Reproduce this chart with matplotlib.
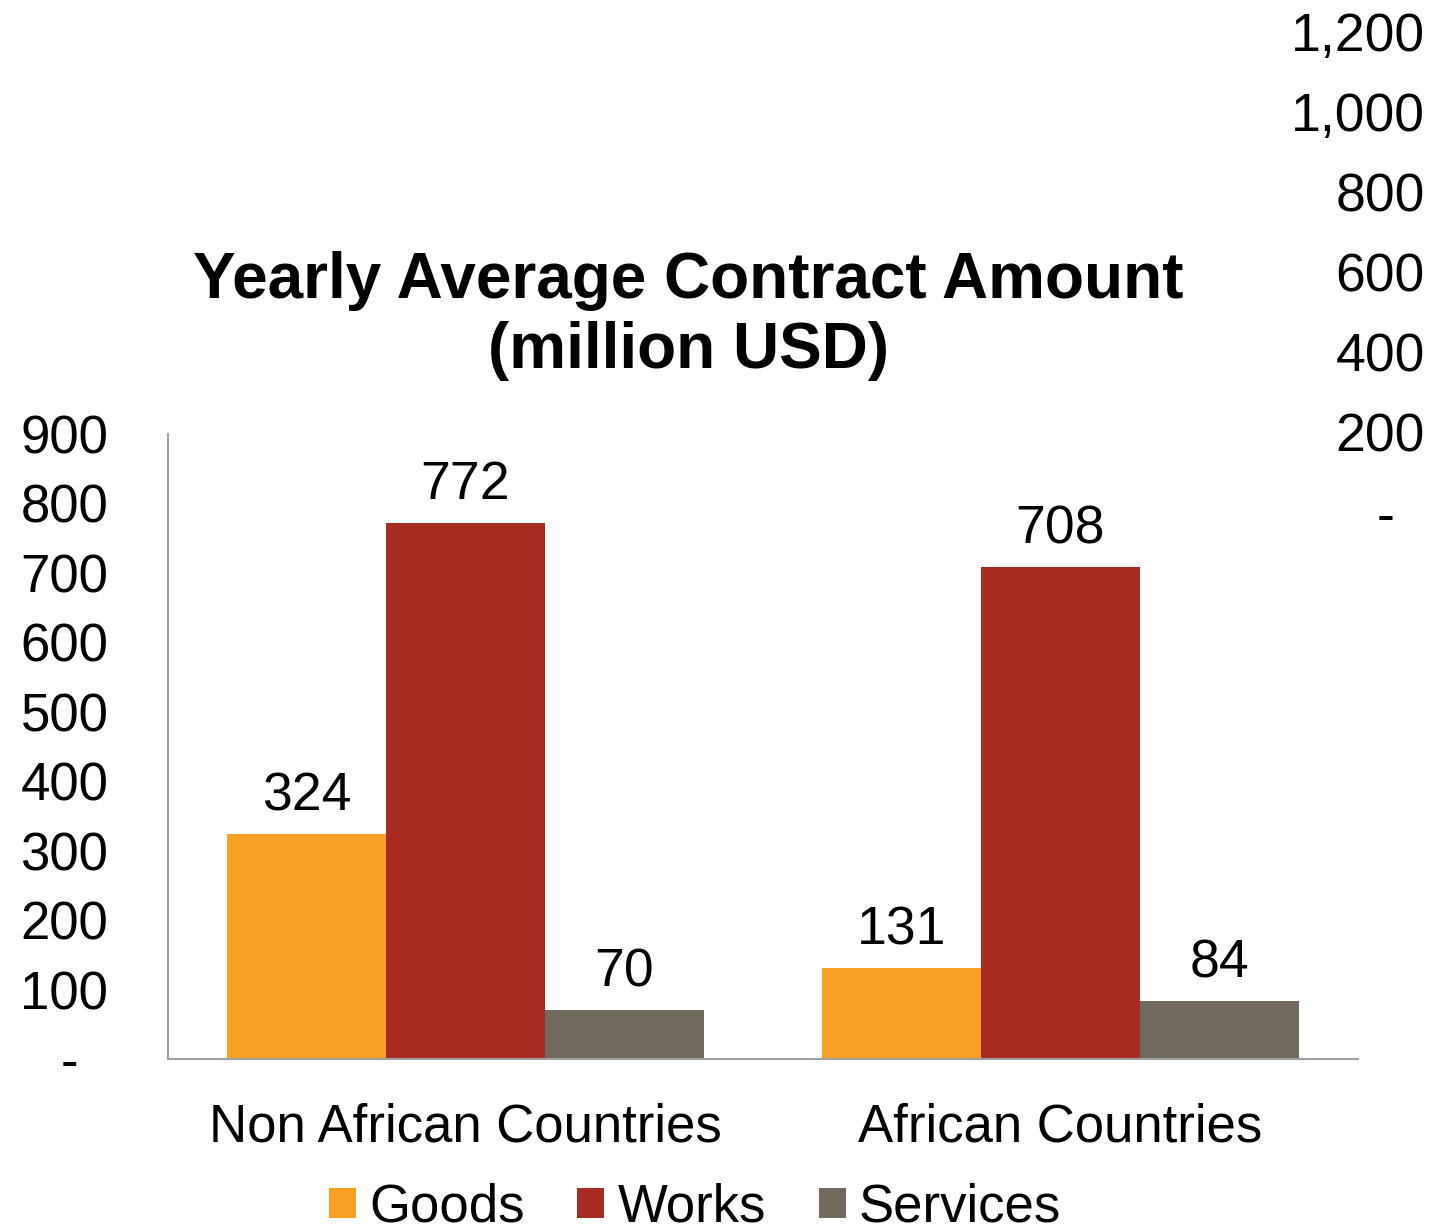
import matplotlib
matplotlib.use("Agg")
from matplotlib import pyplot as plt
from matplotlib.ticker import FuncFormatter

matplotlib.rcParams['font.family'] = 'Liberation Sans'

categories = ["Non African Countries", "African Countries"]
series = ["Goods", "Works", "Services"]
goods = [324, 131]
works = [772, 708]
services = [70, 84]
colors = ["#F8A125", "#A72B20", "#71695D"]

left_ticks = [0, 100, 200, 300, 400, 500, 600, 700, 800, 900]
right_ticks = [0, 200, 400, 600, 800, 1000, 1200]


def fmt(v, pos):
	if v == 0:
		return "-  "
	return "{:,.0f}".format(v)


fig = plt.figure(figsize=(14.3, 12.25), dpi=100)
ax = fig.add_axes([168/1430, 1-1059/1225, 1190/1430, 625/1225])

w = 0.267
x = range(len(categories))
for i, (vals, name) in enumerate(zip([goods, works, services], series)):
	pos = [xi + (i-1)*w for xi in x]
	bars = ax.bar(pos, vals, width=w, color=colors[i], label=name)
	ax.bar_label(bars, labels=[str(v) for v in vals], padding=9, fontsize=38.5)

ax.set_xlim(-0.5, 1.5)
ax.set_ylim(0, 900)
ax.set_yticks(left_ticks)
ax.yaxis.set_major_formatter(FuncFormatter(fmt))
ax.set_xticks(list(x))
ax.set_xticklabels(categories)
ax.tick_params(axis='y', length=0, pad=43, labelsize=38)
ax.tick_params(axis='x', length=0, pad=31, labelsize=38)
for s in ["top", "right"]:
	ax.spines[s].set_visible(False)
for s in ["left", "bottom"]:
	ax.spines[s].set_color("#A0A0A0")
	ax.spines[s].set_linewidth(1.5)

# stray secondary axis in the top right
ax2 = fig.add_axes([0.6, 1-512/1225, 1425/1430-0.6, 480/1225])
ax2.set_ylim(0, 1200)
ax2.set_yticks(right_ticks)
ax2.yaxis.set_major_formatter(FuncFormatter(fmt))
ax2.yaxis.tick_right()
ax2.tick_params(axis='y', length=0, pad=0, labelsize=38.5)
for lbl in ax2.get_yticklabels():
	lbl.set_horizontalalignment("right")
ax2.set_xticks([])
for s in ax2.spines.values():
	s.set_visible(False)
ax2.patch.set_visible(False)

fig.text(688/1430, 1-316/1225, "Yearly Average Contract Amount\n(million USD)",
	ha="center", va="center", fontsize=46, fontweight="bold", linespacing=1.2)

fig.legend(loc="center", bbox_to_anchor=(695/1430, 1-1208/1225), ncol=3, frameon=False,
	fontsize=38, handlelength=0.51, handleheight=0.51, handletextpad=0.25,
	columnspacing=1.0, borderpad=0)

plt.savefig("out.png", dpi=100)
